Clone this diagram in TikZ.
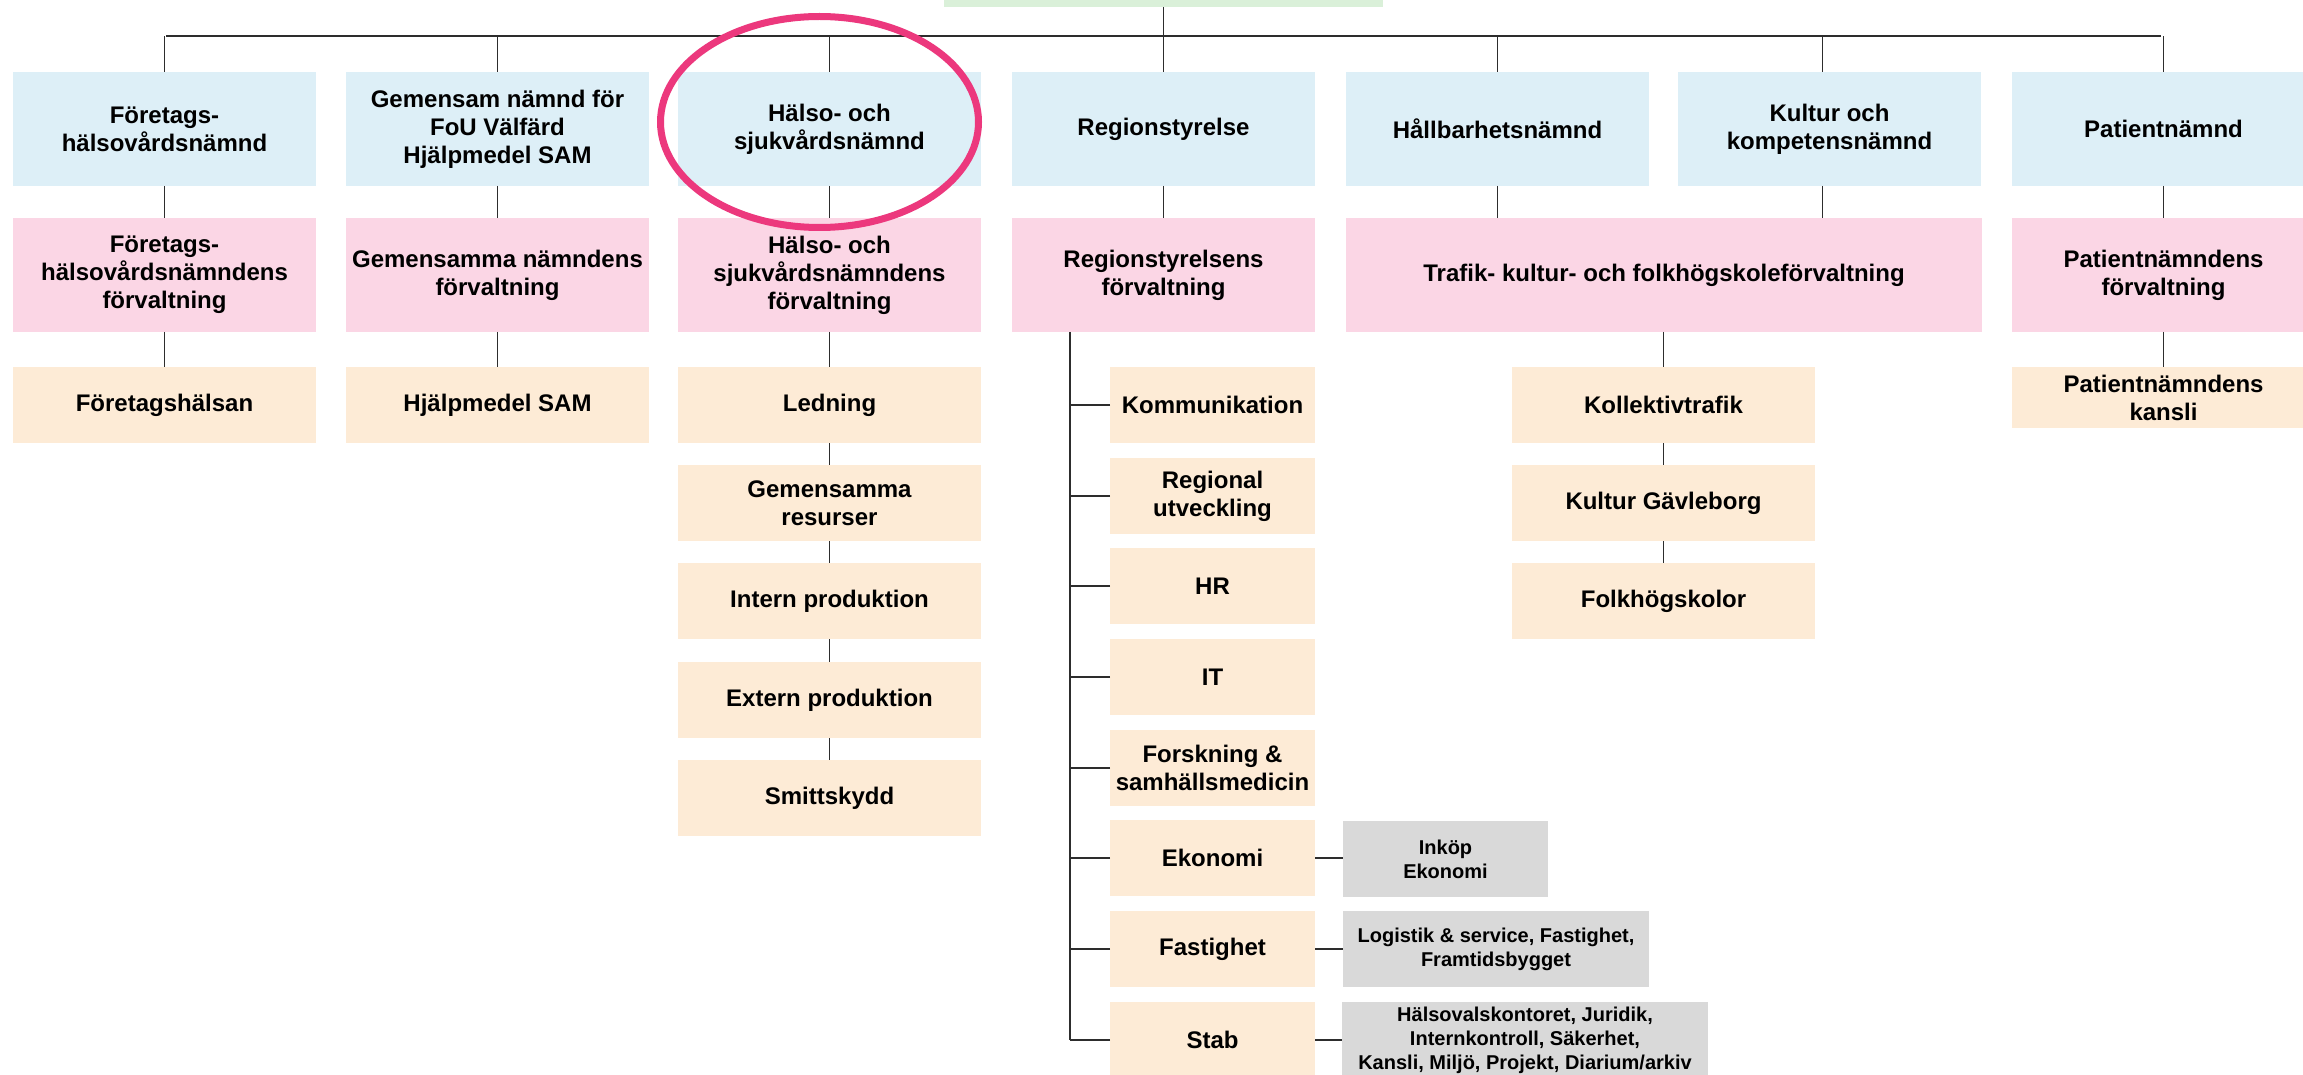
\documentclass[tikz,border=0pt]{standalone}
\usepackage{fontspec}
\setmainfont{Liberation Sans}
\usetikzlibrary{shapes.geometric}
\definecolor{cBlue}{RGB}{221,239,247}
\definecolor{cPink}{RGB}{251,214,229}
\definecolor{cBeige}{RGB}{253,235,214}
\definecolor{cGray}{RGB}{217,217,217}
\definecolor{cGreen}{RGB}{218,240,217}
\definecolor{cLine}{RGB}{45,45,45}
\definecolor{cCirc}{RGB}{236,56,125}
\tikzset{
  nd/.style={rectangle, inner sep=0pt, outer sep=0pt, align=center, anchor=north west,
    font=\fontsize{24}{28}\selectfont\bfseries, minimum width=303pt},
  bl/.style={nd, fill=cBlue, minimum height=114pt},
  pk/.style={nd, fill=cPink, minimum height=114pt},
  bg/.style={nd, fill=cBeige, minimum height=76pt},
  sm/.style={nd, fill=cBeige, minimum height=76pt, minimum width=205pt},
  gr/.style={nd, fill=cGray, minimum height=76pt, font=\fontsize{20}{24}\selectfont\bfseries},
  ln/.style={draw=cLine, line width=1.4pt},
}
\begin{document}
\begin{tikzpicture}[x=1pt,y=-1pt]
\path[use as bounding box, clip] (0,0) rectangle (2303,1075);
\fill[white] (0,0) rectangle (2303,1075);

% top (cropped) node
\node[nd, fill=cGreen, minimum width=439pt, minimum height=87pt] (top) at (944,-80) {};

% row 1
\node[bl] (fn1) at (13,72) {Företags-\\hälsovårdsnämnd};
\node[bl] (gn1) at (346,72) {Gemensam nämnd för\\FoU Välfärd\\Hjälpmedel SAM};
\node[bl] (hs1) at (678,72) {Hälso- och\\sjukvårdsnämnd};
\node[bl] (rs1) at (1012,72) {Regionstyrelse};
\node[bl] (hb1) at (1346,72) {Hållbarhetsnämnd};
\node[bl] (ku1) at (1678,72) {Kultur och\\kompetensnämnd};
\node[bl] (pn1) at (2012,72) {Patientnämnd};

% row 2
\node[pk] (fn2) at (13,218) {Företags-\\hälsovårdsnämndens\\förvaltning};
\node[pk] (gn2) at (346,218) {Gemensamma nämndens\\förvaltning};
\node[pk] (hs2) at (678,218) {Hälso- och\\sjukvårdsnämndens\\förvaltning};
\node[pk] (rs2) at (1012,218) {Regionstyrelsens\\förvaltning};
\node[pk, minimum width=636pt] (tk2) at (1346,218) {Trafik- kultur- och folkhögskoleförvaltning};
\node[pk] (pn2) at (2012,218) {Patientnämndens\\förvaltning};

% row 3
\node[bg] (fn3) at (13,367) {Företagshälsan};
\node[bg] (gn3) at (346,367) {Hjälpmedel SAM};
\node[bg] (hsA) at (678,367) {Ledning};
\node[bg] (hsB) at (678,465) {Gemensamma\\resurser};
\node[bg] (hsC) at (678,563) {Intern produktion};
\node[bg] (hsD) at (678,662) {Extern produktion};
\node[bg] (hsE) at (678,760) {Smittskydd};

\node[sm] (kom) at (1110,367) {Kommunikation};
\node[sm] (reg) at (1110,458) {Regional\\utveckling};
\node[sm] (hr)  at (1110,548) {HR};
\node[sm] (it)  at (1110,639) {IT};
\node[sm] (fo)  at (1110,730) {Forskning \&\\samhällsmedicin};
\node[sm] (ek)  at (1110,820) {Ekonomi};
\node[sm] (fa)  at (1110,911) {Fastighet};
\node[sm] (st)  at (1110,1002) {Stab};

\node[gr, minimum width=205pt] (ink) at (1343,821) {Inköp\\Ekonomi};
\node[gr, minimum width=306pt] (log) at (1343,911) {Logistik \& service, Fastighet,\\Framtidsbygget};
\node[gr, minimum width=366pt] (stg) at (1342,1002) {Hälsovalskontoret, Juridik,\\Internkontroll, Säkerhet,\\Kansli, Miljö, Projekt, Diarium/arkiv};

\node[bg] (kol) at (1512,367) {Kollektivtrafik};
\node[bg] (kgv) at (1512,465) {Kultur Gävleborg};
\node[bg] (fhs) at (1512,563) {Folkhögskolor};

\node[bg, minimum height=61pt] (pnk) at (2012,367) {Patientnämndens\\kansli};

% connectors: bus
\coordinate (busL) at (166,36);
\coordinate (busR) at (2161,36);
\draw[ln] (busL) -- (busR);
\draw[ln] (top.south) -- (rs1.north);
\foreach \n in {fn1,gn1,hs1,hb1,pn1}
  \draw[ln] (\n.north) -- (\n.north |- busL);
\coordinate (kuX) at ([xshift=-7pt]ku1.north);
\draw[ln] (kuX) -- (kuX |- busL);

% row1 -> row2
\draw[ln] (fn1) -- (fn2);
\draw[ln] (gn1) -- (gn2);
\draw[ln] (hs1) -- (hs2);
\draw[ln] (rs1) -- (rs2);
\draw[ln] (pn1) -- (pn2);
\draw[ln] (hb1.south) -- (hb1.south |- tk2.north);
\draw[ln] (kuX |- ku1.south) -- (kuX |- tk2.north);

% row2 -> row3
\draw[ln] (fn2) -- (fn3);
\draw[ln] (gn2) -- (gn3);
\draw[ln] (hs2) -- (hsA);
\draw[ln] (hsA) -- (hsB);
\draw[ln] (hsB) -- (hsC);
\draw[ln] (hsC) -- (hsD);
\draw[ln] (hsD) -- (hsE);
\draw[ln] (pn2) -- (pnk);
\draw[ln] (kol.north |- tk2.south) -- (kol.north);
\draw[ln] (kol) -- (kgv);
\draw[ln] (kgv) -- (fhs);

% Regionstyrelsens förvaltning spine
\coordinate (spTop) at ([xshift=58pt]rs2.south west);
\draw[ln] (spTop) -- (spTop |- st.west);
\foreach \n in {kom,reg,hr,it,fo,ek,fa,st}
  \draw[ln] (\n.west) -- (\n.west -| spTop);

\draw[ln] (ek.east) -- (ek.east -| ink.west);
\draw[ln] (fa.east) -- (fa.east -| log.west);
\draw[ln] (st.east) -- (st.east -| stg.west);

% highlight ellipse
\node[ellipse, draw=cCirc, line width=7pt, minimum width=318pt, minimum height=211pt, inner sep=0pt] (hl) at (819.5,122) {};
\end{tikzpicture}
\end{document}
